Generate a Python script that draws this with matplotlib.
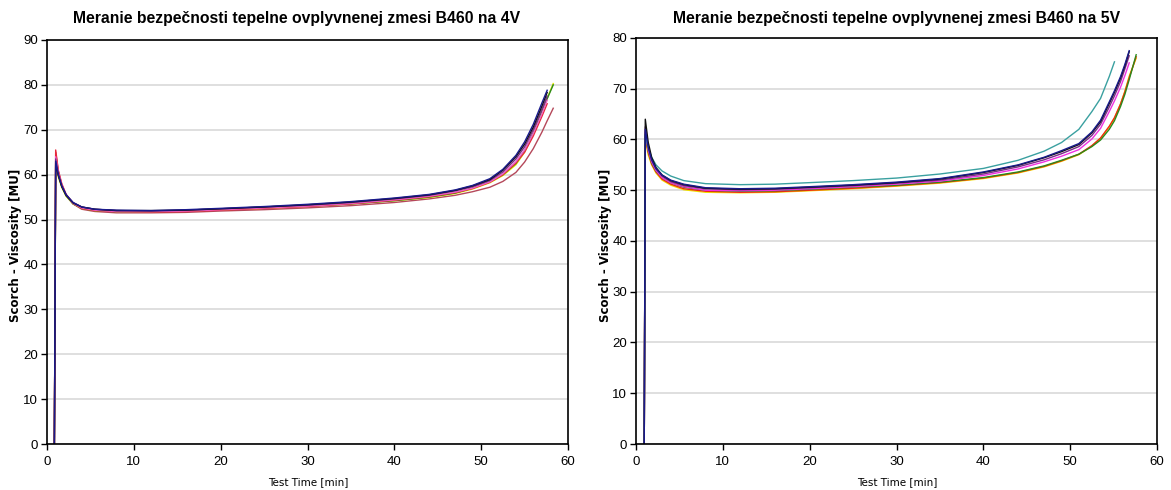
import matplotlib
matplotlib.use("Agg")
import matplotlib.pyplot as plt

TITLE_4V = "Meranie bezpečnosti tepelne ovplyvnenej zmesi B460 na 4V"
TITLE_5V = "Meranie bezpečnosti tepelne ovplyvnenej zmesi B460 na 5V"
YLABEL = "Scorch - Viscosity [MU]"
XLABEL = "Test Time [min]"

# --- 4V panel: shared time grid, each curve stops where its own list ends ----
T_4V = [0.85, 1.0, 1.3, 1.7, 2.2, 3, 4, 5.5, 8, 12, 16, 20, 25, 30, 35, 40,
        44, 47, 49, 51, 52.5, 54, 55, 56, 57, 57.6, 58.3]
brown_4v = [0, 65, 60.8, 57.8, 55.5, 53.5, 52.3, 51.8, 51.5, 51.5, 51.6, 51.9, 52.2,
            52.6, 53.1, 53.8, 54.6, 55.4, 56.2, 57.2, 58.5, 60.5, 62.8, 65.8, 69.5, 72.0, 74.8]
yellow_4v = [0, 62, 59.5, 57.2, 55.2, 53.5, 52.5, 52.0, 51.8, 51.8, 51.9, 52.2, 52.5,
             53.0, 53.5, 54.2, 54.9, 55.8, 56.8, 58.2, 59.8, 62.2, 65.0, 69.0, 74.0, 77.0, 80.3]
green_4v = [0, 63, 60, 57.4, 55.3, 53.5, 52.5, 52.0, 51.8, 51.8, 51.9, 52.2, 52.6,
            53.0, 53.5, 54.2, 55.0, 55.9, 57.0, 58.4, 60.0, 62.5, 65.3, 69.3, 74.2, 76.9, 80.0]
red_4v = [0, 65.5, 61.0, 58.0, 55.6, 53.6, 52.5, 52.0, 51.8, 51.7, 51.8, 52.1, 52.5,
          52.9, 53.5, 54.3, 55.1, 56.0, 56.9, 58.3, 60.0, 62.6, 65.0, 68.6, 73.0, 75.8]
pink_4v = [0, 64, 60.5, 57.7, 55.5, 53.6, 52.6, 52.1, 51.8, 51.8, 51.9, 52.2, 52.6,
           53.0, 53.6, 54.4, 55.2, 56.1, 57.0, 58.4, 60.2, 62.9, 65.5, 69.2, 73.6, 76.6]
purple_4v = [0, 63.5, 60.3, 57.6, 55.6, 53.8, 52.8, 52.3, 52.0, 51.9, 52.1, 52.4, 52.8,
             53.2, 53.8, 54.6, 55.4, 56.4, 57.3, 58.7, 60.6, 63.5, 66.2, 70.0, 74.6, 77.5]
black_4v = [0, 62.5, 59.8, 57.3, 55.4, 53.7, 52.8, 52.3, 52.0, 52.0, 52.1, 52.4, 52.8,
            53.3, 53.9, 54.7, 55.5, 56.5, 57.5, 58.9, 61.0, 64.0, 66.8, 70.6, 75.3, 78.3]
navy_4v = [0, 63, 60, 57.5, 55.5, 53.8, 52.8, 52.3, 52.1, 52.0, 52.2, 52.5, 52.9,
           53.4, 54.0, 54.8, 55.6, 56.6, 57.6, 59.1, 61.2, 64.3, 67.3, 71.2, 76.0, 78.8]

# --- 5V panel ----------------------------------------------------------------
T_5V = [0.95, 1.07, 1.4, 1.8, 2.3, 3, 4, 5.5, 8, 12, 16, 20, 25, 30, 35, 40,
        44, 47, 49, 51, 52.5, 53.5, 54.5, 55.1, 55.8, 56.3, 56.8, 57.6]
yellow_5v = [0, 60, 57.0, 55.0, 53.4, 52.0, 51.0, 50.1, 49.6, 49.5, 49.6, 49.9, 50.3,
             50.8, 51.4, 52.3, 53.4, 54.6, 55.7, 57.0, 58.7, 60.2, 62.5, 64.2, 67.0,
             69.5, 72.5, 76.0]
red_5v = [0, 60.5, 57.5, 55.2, 53.6, 52.2, 51.2, 50.3, 49.8, 49.6, 49.7, 50.0, 50.4,
          50.9, 51.5, 52.4, 53.5, 54.7, 55.8, 57.1, 58.8, 60.3, 62.6, 64.3, 67.0,
          69.4, 72.2, 76.3]
green_5v = [0, 61, 57.8, 55.4, 53.8, 52.5, 51.5, 50.6, 50.0, 49.8, 49.9, 50.2, 50.6,
            51.0, 51.6, 52.5, 53.6, 54.8, 55.9, 57.1, 58.6, 59.9, 62.0, 63.7, 66.5,
            68.9, 71.8, 76.7]
magenta_5v = [0, 61.5, 58.0, 55.6, 53.9, 52.5, 51.5, 50.7, 50.0, 49.9, 50.0, 50.3, 50.7,
              51.2, 51.8, 52.9, 54.2, 55.6, 56.7, 58.0, 60.1, 62.2, 65.5, 67.6, 70.3,
              72.6, 75.1]
purple_5v = [0, 62.5, 58.8, 56.0, 54.2, 52.8, 51.7, 50.9, 50.3, 50.1, 50.2, 50.5, 50.9,
             51.4, 52.0, 53.2, 54.6, 56.0, 57.2, 58.6, 60.8, 63.0, 66.4, 68.6, 71.4,
             73.9, 76.5]
teal_5v = [0, 61, 58.5, 56.5, 55.0, 53.8, 52.8, 51.9, 51.3, 51.1, 51.2, 51.5, 51.9,
           52.4, 53.2, 54.3, 55.9, 57.7, 59.4, 62.0, 65.5, 68.1, 72.4, 75.3]
black_5v = [0, 64, 59.5, 56.5, 54.5, 53.0, 51.9, 51.1, 50.4, 50.2, 50.3, 50.6, 51.0,
            51.5, 52.2, 53.5, 54.9, 56.4, 57.6, 59.0, 61.3, 63.5, 67.1, 69.3, 72.1,
            74.5, 77.3]
navy_5v = [0, 62, 58.5, 56.0, 54.3, 53.0, 52.0, 51.2, 50.5, 50.3, 50.4, 50.7, 51.1,
           51.6, 52.3, 53.6, 55.0, 56.5, 57.8, 59.2, 61.5, 63.8, 67.4, 69.6, 72.4,
           74.8, 77.5]

SERIES_4V = [(brown_4v, "#b5485a"), (yellow_4v, "#e6e600"), (green_4v, "#2a8a1a"),
             (red_4v, "#e8283a"), (pink_4v, "#f060c8"), (purple_4v, "#7a2a8a"),
             (black_4v, "#111111"), (navy_4v, "#1a1a8c")]
SERIES_5V = [(yellow_5v, "#f0e000"), (red_5v, "#f02a10"), (green_5v, "#2a8a1a"),
             (magenta_5v, "#f030e0"), (purple_5v, "#7a2a8a"), (teal_5v, "#3aa0a0"),
             (black_5v, "#111111"), (navy_5v, "#1a1a8c")]

TICK_FONT = ["Liberation Sans", "DejaVu Sans"]

fig = plt.figure(figsize=(11.71, 4.9), dpi=100)
W, H = 1171, 490


def panel(left_px, top_px, t, series, ymax, title, title_cx):
    right_px, bot_px = left_px + 521, 444
    ax = fig.add_axes([left_px / W, 1 - bot_px / H, (right_px - left_px) / W,
                       (bot_px - top_px) / H])
    for vals, col in series:
        ax.plot(t[:len(vals)], vals, color=col, lw=1.0)
    ax.set_xlim(0, 60)
    ax.set_ylim(0, ymax)
    ax.set_xticks(range(0, 61, 10))
    ax.set_yticks(range(0, ymax + 1, 10))
    ax.grid(axis="y", color="#dcdcdc", lw=1.3)
    ax.set_axisbelow(True)
    ax.tick_params(axis="both", direction="out", length=4.5, width=1,
                   top=False, right=False)
    ax.tick_params(axis="x", pad=4)
    ax.tick_params(axis="y", pad=2)
    for lab in ax.get_xticklabels() + ax.get_yticklabels():
        lab.set_family(TICK_FONT)
        lab.set_fontsize(9.5)
    for s in ax.spines.values():
        s.set_linewidth(1.2)
    fig.text(title_cx / W, 1 - 18 / H, title, ha="center", va="center",
             fontsize=11.3, fontweight="bold", family=["Liberation Sans", "DejaVu Sans"])
    fig.text((left_px - 31) / W, 1 - 245 / H, YLABEL, rotation=90, ha="center",
             va="center", fontsize=8.5, fontweight="bold")
    fig.text((left_px + 261) / W, 1 - 482 / H, XLABEL, ha="center", va="center",
             fontsize=7.5)
    return ax


panel(47, 40, T_4V, SERIES_4V, 90, TITLE_4V, 297)
panel(636, 38, T_5V, SERIES_5V, 80, TITLE_5V, 897)

fig.savefig("out.png", dpi=100)
